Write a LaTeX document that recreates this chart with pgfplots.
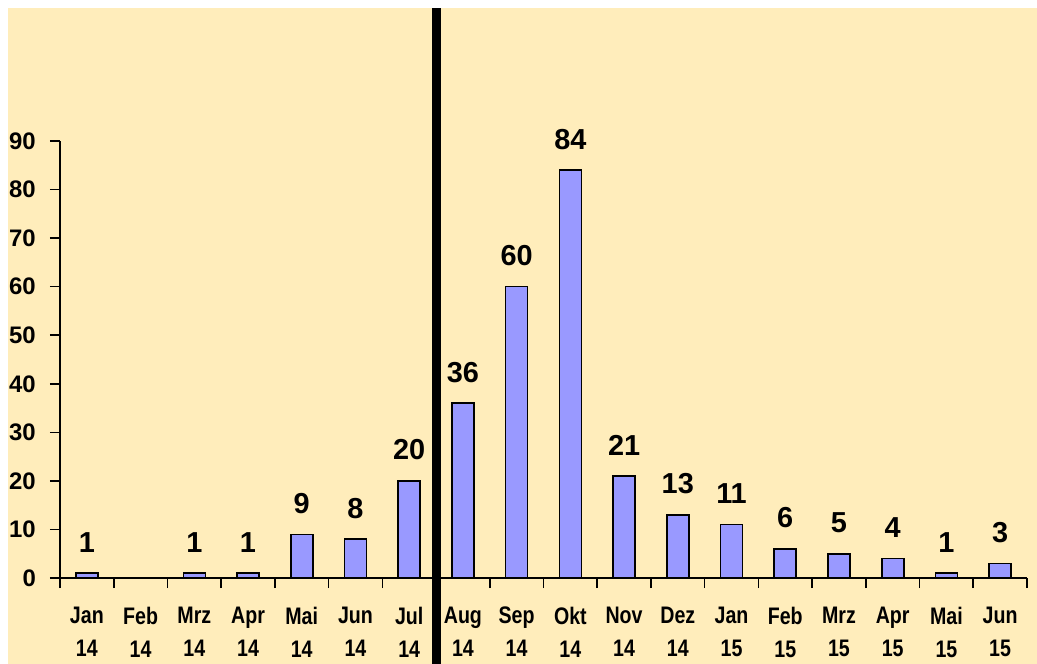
\documentclass[border=0pt]{standalone}
\usepackage{fontspec}
\setmainfont{Liberation Sans}
\newfontfamily\narrowfont{Liberation Sans}[FakeStretch=0.82]
\usepackage{pgfplots}
\pgfplotsset{compat=1.18}
\definecolor{bg}{HTML}{FFEDBB}
\definecolor{barc}{HTML}{9999FF}
\begin{document}
\begin{tikzpicture}
\fill[bg] (-52bp,-86bp) rectangle (977bp,570bp);
\useasboundingbox (-60bp,-86bp) rectangle (977bp,578bp);
\begin{axis}[
  at={(0,0)}, anchor=south west,
  scale only axis, width=967bp, height=437bp,
  xmin=-0.5, xmax=17.5, ymin=0, ymax=90,
  axis x line*=bottom, axis y line*=left,
  axis line style={line width=2.5bp, black},
  clip=false,
  /pgf/number format/assume math mode=true,
  ybar, bar width=22bp,
  tick align=outside,
  major tick length=10bp,
  tick style={line width=1.6bp, black},
  xtick={-0.5,0.5,...,17.5},
  x tick label as interval,
  xticklabels={{Jan\\14},{Feb\\14},{Mrz\\14},{Apr\\14},{Mai\\14},{Jun\\14},{Jul\\14},{Aug\\14},{Sep\\14},{Okt\\14},{Nov\\14},{Dez\\14},{Jan\\15},{Feb\\15},{Mrz\\15},{Apr\\15},{Mai\\15},{Jun\\15}},
  xticklabel style={align=center, font=\narrowfont\fontsize{24}{33}\selectfont\bfseries, anchor=north, inner sep=0pt, yshift=-19bp},
  ytick={0,10,...,90},
  yticklabel style={font=\fontsize{24}{30}\selectfont\bfseries, anchor=east, inner sep=0pt, xshift=-14bp},
  nodes near coords,
  nodes near coords style={font=\fontsize{29}{32}\selectfont\bfseries, anchor=base, yshift=21bp, inner sep=0pt},
]
\addplot[fill=barc, draw=black, line width=1.6bp] coordinates {
(0,1) (2,1) (3,1) (4,9) (5,8) (6,20) (7,36) (8,60) (9,84) (10,21) (11,13) (12,11) (13,6) (14,5) (15,4) (16,1) (17,3)
};
\draw[line width=9bp, black] (axis cs:6.5,-17.8) -- (axis cs:6.5,117.4);
\end{axis}
\end{tikzpicture}
\end{document}
